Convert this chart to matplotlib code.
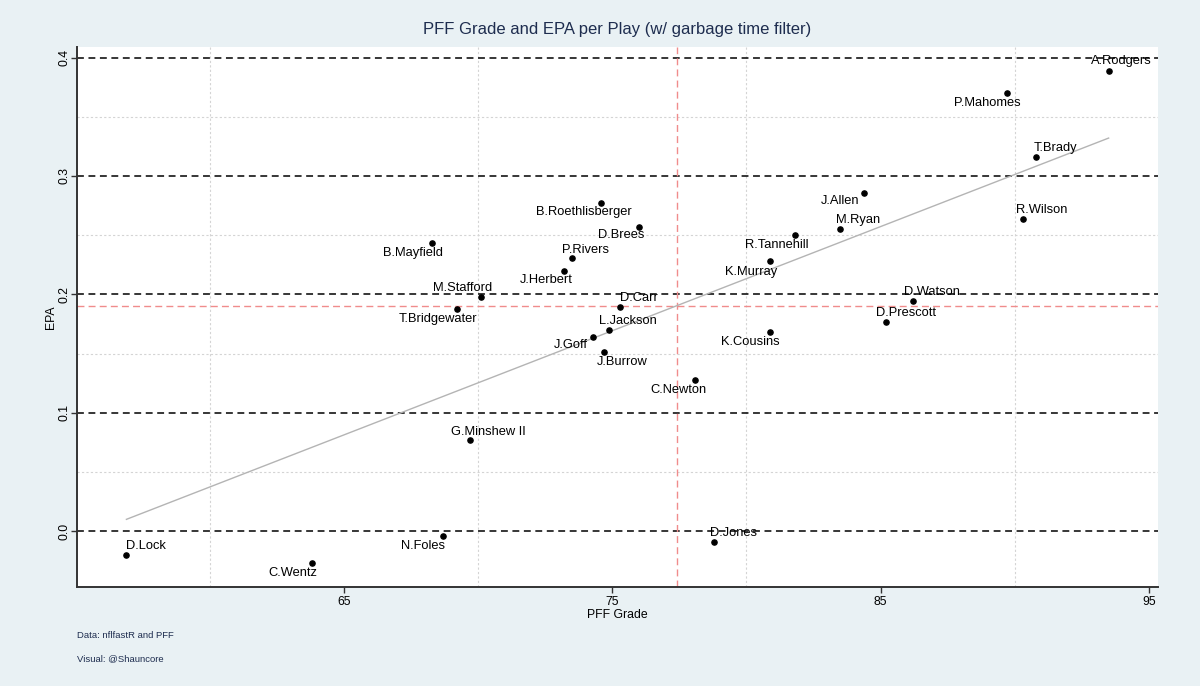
import numpy as np
import matplotlib
matplotlib.use("Agg")
import matplotlib.pyplot as plt

players = ["A.Rodgers", "P.Mahomes", "T.Brady", "R.Wilson", "J.Allen", "M.Ryan",
           "R.Tannehill", "K.Murray", "D.Watson", "D.Prescott", "K.Cousins",
           "C.Newton", "D.Jones", "B.Roethlisberger", "D.Brees", "P.Rivers",
           "J.Herbert", "B.Mayfield", "M.Stafford", "T.Bridgewater", "D.Carr",
           "L.Jackson", "J.Goff", "J.Burrow", "G.Minshew II", "N.Foles",
           "C.Wentz", "D.Lock"]
pff_grade = [93.5, 89.7, 90.8, 90.3, 84.4, 83.5,
             81.8, 80.9, 86.2, 85.2, 80.9,
             78.1, 78.8, 74.6, 76.0, 73.5,
             73.2, 68.3, 70.1, 69.2, 75.3,
             74.9, 74.3, 74.7, 69.7, 68.7,
             63.8, 56.9]
epa = [0.389, 0.370, 0.316, 0.264, 0.286, 0.255,
       0.250, 0.228, 0.194, 0.177, 0.168,
       0.128, -0.009, 0.277, 0.257, 0.231,
       0.220, 0.243, 0.198, 0.188, 0.189,
       0.170, 0.164, 0.151, 0.077, -0.004,
       -0.027, -0.020]

# label centre offsets from the marker, in pixels (x right, y down)
label_offsets = [(13, -10), (-19, 10), (19, -9), (19, -9), (-24, 8), (18, -9),
                 (-18, 10), (-19, 11), (19, -9), (20, -9), (-20, 10),
                 (-17, 10), (19, -9), (-18, 9), (-18, 8), (14, -8),
                 (-18, 9), (-19, 10), (-18, -9), (-19, 10), (19, -9),
                 (18, -9), (-23, 8), (18, 10), (18, -8), (-20, 10),
                 (-19, 10), (20, -9)]

bg = "#e9f1f4"
navy = "#1e2d4f"
plt.rcParams["font.family"] = ["Liberation Sans", "DejaVu Sans"]

fig = plt.figure(figsize=(12, 6.86), dpi=100, facecolor=bg)
ax = fig.add_axes([0.0642, 0.1443, 0.9008, 0.7872])
ax.set_facecolor("white")

x = np.array(pff_grade)
y = np.array(epa)

# minor grid
for gx in [60, 70, 80, 90]:
    ax.axvline(gx, color="#d4d4d4", lw=0.8, ls=(0, (2, 2)), zorder=0)
for gy in [0.05, 0.15, 0.25, 0.35]:
    ax.axhline(gy, color="#d4d4d4", lw=0.8, ls=(0, (2, 2)), zorder=0)
# major y lines
for gy in [0.0, 0.1, 0.2, 0.3, 0.4]:
    ax.axhline(gy, color="black", lw=1.1, ls=(0, (4.5, 3)), zorder=1)

# mean lines
ax.axvline(x.mean(), color="#f08c8c", lw=1.0, ls=(0, (5, 3)), zorder=1)
ax.axhline(y.mean(), color="#f08c8c", lw=1.0, ls=(0, (5, 3)), zorder=1)

# linear fit
b, a = np.polyfit(x, y, 1)
xs = np.array([x.min(), x.max()])
ax.plot(xs, a + b * xs, color="#b4b4b4", lw=1.0, zorder=2)

ax.scatter(x, y, s=14, color="black", zorder=3)
for name, xi, yi, (dx, dy) in zip(players, x, y, label_offsets):
    ax.annotate(name, (xi, yi), xytext=(dx * 0.72, -dy * 0.72),
                textcoords="offset points", ha="center", va="center",
                fontsize=9.3, color="black", zorder=4)

ax.set_xlim(55.06, 95.34)
ax.set_ylim(-0.0473, 0.409)
ax.set_xticks([65, 75, 85, 95])
ax.set_yticks([0.0, 0.1, 0.2, 0.3, 0.4])
ax.set_yticklabels(["0.0", "0.1", "0.2", "0.3", "0.4"], rotation=90, va="center")
ax.tick_params(axis="both", labelsize=8.8, length=4.5, width=1, color="#333333",
               pad=2)
ax.tick_params(axis="y", pad=0)

for side in ["top", "right"]:
    ax.spines[side].set_visible(False)
for side in ["left", "bottom"]:
    ax.spines[side].set_color("#333333")
    ax.spines[side].set_linewidth(1.4)

ax.set_xlabel("PFF Grade", fontsize=8.8, labelpad=1)
ax.set_ylabel("EPA", fontsize=8.8, labelpad=1)

ax.set_title("PFF Grade and EPA per Play (w/ garbage time filter)",
             fontsize=12, color=navy, pad=9)

fig.text(0.0642, 1 - 636 / 686, "Data: nflfastR and PFF", fontsize=6.8,
         color=navy, va="center")
fig.text(0.0642, 1 - 659 / 686, "Visual: @Shauncore", fontsize=6.8,
         color=navy, va="center")

fig.savefig("out.png", dpi=100, facecolor=bg)
